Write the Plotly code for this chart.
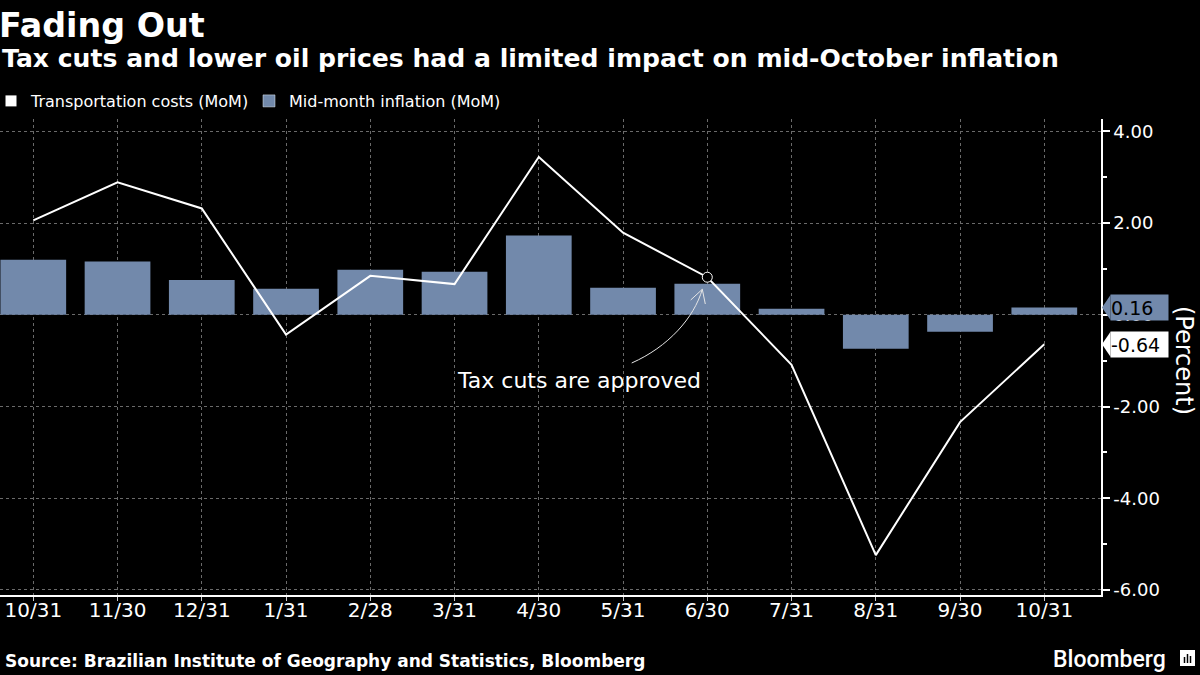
import plotly.graph_objects as go

categories = ["10/31", "11/30", "12/31", "1/31", "2/28", "3/31", "4/30",
              "5/31", "6/30", "7/31", "8/31", "9/30", "10/31"]
transport = [2.06, 2.89, 2.32, -0.43, 0.85, 0.67, 3.44, 1.79, 0.82, -1.09, -5.24, -2.34, -0.64]
inflation = [1.20, 1.16, 0.76, 0.57, 0.98, 0.94, 1.73, 0.59, 0.68, 0.13, -0.74, -0.37, 0.16]
y_ticks = [-6, -4, -2, 0, 2, 4]
annot_idx = 8  # "6/30" - tax cuts approved

BAR = "#7289AB"
FONT = "DejaVu Sans"
W, H = 1200, 675
ML, MR, MT, MB = 0, 99, 119, 80
PW, PH = W - ML - MR, H - MT - MB
Y0, Y1 = -6.11, 4.27


def px(x):
    return (x - ML) / PW


def py(y):
    return (H - MB - y) / PH


xs = list(range(len(categories)))

fig = go.Figure()
fig.add_trace(go.Bar(x=xs, y=inflation, marker=dict(color=BAR, line=dict(width=0)),
                     name="Mid-month inflation (MoM)", showlegend=False))
fig.add_trace(go.Scatter(x=xs, y=transport, mode="lines", line=dict(color="white", width=2),
                         name="Transportation costs (MoM)", showlegend=False))
fig.add_trace(go.Scatter(x=[xs[annot_idx]], y=[transport[annot_idx]], mode="markers",
                         marker=dict(symbol="circle", size=10, color="black",
                                     line=dict(color="white", width=1)),
                         showlegend=False, hoverinfo="skip"))
# legend entries (square icons)
fig.add_trace(go.Scatter(x=[None], y=[None], mode="markers",
                         marker=dict(symbol="square", size=11, color="white"),
                         name="Transportation costs (MoM)"))
fig.add_trace(go.Bar(x=[None], y=[None], marker=dict(color=BAR),
                     name="Mid-month inflation (MoM)"))

grid = dict(showgrid=True, gridcolor="#6a6a6a", griddash="dot", gridwidth=1)

fig.update_layout(
    width=W, height=H,
    paper_bgcolor="black", plot_bgcolor="black",
    margin=dict(l=ML, r=MR, t=MT, b=MB, autoexpand=False),
    bargap=0.22,
    font=dict(family=FONT, color="white"),
    showlegend=True,
    legend=dict(orientation="h", x=px(-9), y=py(101),
                xanchor="left", yanchor="middle",
                font=dict(size=16, color="white", family=FONT),
                bgcolor="rgba(0,0,0,0)", traceorder="normal", entrywidth=213),
    xaxis=dict(range=[-0.395, 12.673], tickmode="array", tickvals=xs, ticktext=categories,
               tickfont=dict(size=20, color="white", family=FONT),
               showline=True, linecolor="white", linewidth=1.5,
               ticks="outside", ticklen=4, tickcolor="#cccccc", zeroline=False,
               ticklabelstandoff=-8, **grid),
    yaxis=dict(side="right", range=[Y0, Y1], tickmode="array", tickvals=y_ticks,
               ticktext=[f"{v:.2f}" for v in y_ticks],
               tickfont=dict(size=18, color="white", family=FONT),
               showline=True, linecolor="white", linewidth=1.5,
               ticks="outside", ticklen=7, tickcolor="white", tickwidth=1.5,
               minor=dict(dtick=1, ticks="outside", ticklen=4, tickcolor="white", showgrid=False),
               zeroline=False, **grid),
)

annotations = [
    dict(text="<b>Fading Out</b>", x=px(-3), y=py(25), xref="paper", yref="paper",
         xanchor="left", yanchor="middle", showarrow=False,
         font=dict(size=33.3, color="white", family=FONT)),
    dict(text="<b>Tax cuts and lower oil prices had a limited impact on mid-October inflation</b>",
         x=px(0), y=py(58), xref="paper", yref="paper", xanchor="left", yanchor="middle",
         showarrow=False, font=dict(size=25.1, color="white", family=FONT)),
    dict(text="<b>Source: Brazilian Institute of Geography and Statistics, Bloomberg</b>",
         x=px(3), y=py(661), xref="paper", yref="paper", xanchor="left", yanchor="middle",
         showarrow=False, font=dict(size=17, color="white", family=FONT)),
    dict(text="Bloomberg", x=px(1168), y=py(659), xref="paper", yref="paper",
         xanchor="right", yanchor="middle", showarrow=False,
         font=dict(size=23, color="white", family="Roboto", weight=500)),
    dict(text="Tax cuts are approved", x=px(578.5), y=py(380), xref="paper", yref="paper",
         xanchor="center", yanchor="middle", showarrow=False,
         font=dict(size=22, color="white", family=FONT)),
    dict(text="(Percent)", x=px(1184), y=py(361), xref="paper", yref="paper",
         xanchor="center", yanchor="middle", showarrow=False, textangle=90,
         font=dict(size=24, color="white", family=FONT)),
]

shapes = []
# value labels on the right axis
d = 12.5 / (PH / (Y1 - Y0))
for val, bg in [(inflation[-1], BAR), (transport[-1], "white")]:
    annotations.append(dict(text=f"{val:.2f}", x=px(1110), y=val, xref="paper", yref="y",
                            xanchor="left", yanchor="middle", showarrow=False,
                            bgcolor=bg, borderpad=0, width=57, height=25, align="left",
                            font=dict(size=19, color="black", family=FONT)))
    shapes.append(dict(type="path", xref="paper", yref="y",
                       path=f"M {px(1102)},{val} L {px(1110.5)},{val + d} L {px(1110.5)},{val - d} Z",
                       fillcolor=bg, line=dict(width=0), layer="above"))

# curved arrow for the annotation
p0 = (px(631.7), py(363)); c1 = (px(668), py(347)); c2 = (px(694), py(318)); tip = (px(702.3), py(289.3))
h1 = (px(690.7), py(300)); h2 = (px(705.3), py(304))
shapes.append(dict(type="path", xref="paper", yref="paper",
                   path=(f"M {p0[0]},{p0[1]} C {c1[0]},{c1[1]} {c2[0]},{c2[1]} {tip[0]},{tip[1]} "
                         f"M {h1[0]},{h1[1]} L {tip[0]},{tip[1]} L {h2[0]},{h2[1]}"),
                   line=dict(color="#e6e6e6", width=1), layer="above"))

# Bloomberg icon
shapes.append(dict(type="rect", xref="paper", yref="paper", x0=px(1180), x1=px(1195),
                   y0=py(666), y1=py(650), fillcolor="white", line=dict(width=0)))
for bx, top in [(1184.5, 657), (1187.5, 654), (1190.5, 656)]:
    shapes.append(dict(type="line", xref="paper", yref="paper", x0=px(bx), x1=px(bx),
                       y0=py(663), y1=py(top), line=dict(color="black", width=1.5)))

fig.update_layout(annotations=annotations, shapes=shapes)
fig.write_html("out.html")
